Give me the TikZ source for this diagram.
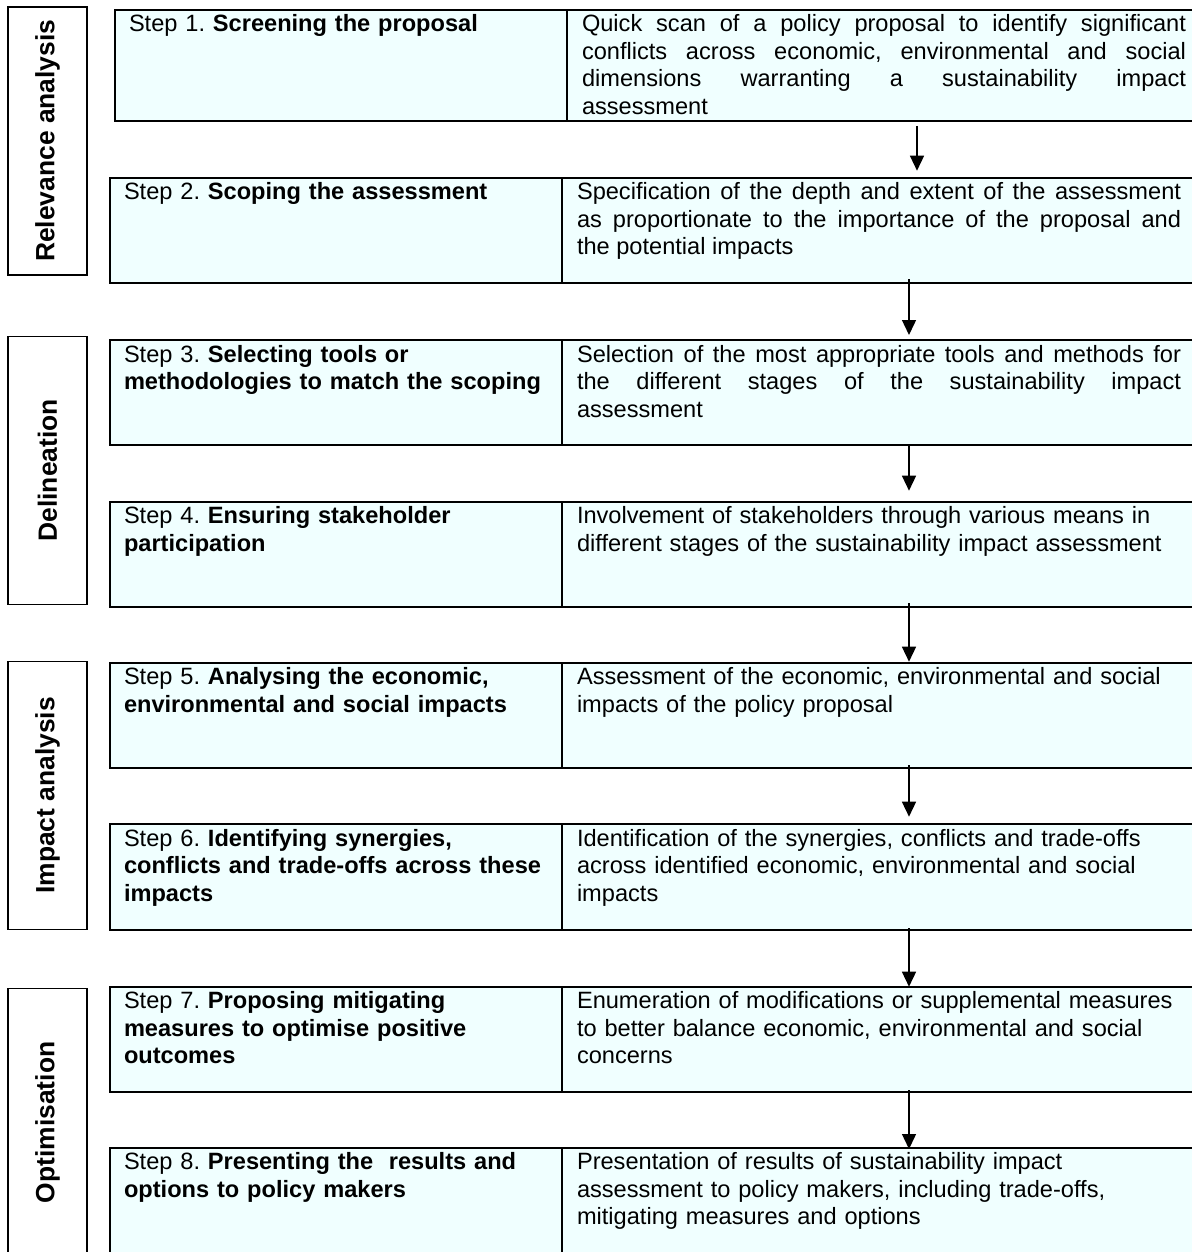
\documentclass[tikz,border=0pt]{standalone}
\usepackage{fontspec}
\setmainfont{Liberation Sans}
\usetikzlibrary{positioning,arrows.meta}
\definecolor{cellfill}{RGB}{240,255,255}
\frenchspacing

\begin{document}
\begin{tikzpicture}[x=1pt, y=1pt,
	cell/.style={draw, line width=1pt, fill=cellfill, anchor=north west, outer sep=0pt, inner ysep=0pt, text height=11pt, text depth=41.5pt, font=\fontsize{11.8}{13.75}\selectfont},
	stepcell/.style={cell, text width=212pt, inner xsep=7pt, align=left},
	desccell/.style={cell, text width=302pt, inner xsep=7.5pt, align=left},
	stage/.style={draw, line width=0.8pt, fill=white, rotate=90, minimum width=134pt, minimum height=39.5pt, inner sep=0pt, font=\fontsize{13.2}{15}\selectfont\bfseries},
	flow/.style={line width=0.7pt, -{Triangle[length=7.5pt, width=7pt]}}]
	\useasboundingbox (0, 0) rectangle (596, -626);

	\node[stage] (rel) at (23.75, -70.4) {Relevance analysis};
	\node[stage] (del) at (23.75, -235.15) {Delineation};
	\node[stage] (imp) at (23.75, -397.65) {Impact analysis};
	\node[stage] (opt) at (23.75, -561.2) {Optimisation};

	\node[stepcell, text depth=44.35pt] (s1l) at (57.5, -5) {Step 1. \textbf{Screening the proposal}};
	\node[desccell, text depth=44.35pt, align=justify, right=0pt of s1l] (s1r) {Quick scan of a policy proposal to identify significant\linebreak conflicts across economic, environmental and social\linebreak dimensions warranting a sustainability impact\linebreak assessment};

	\node[stepcell] (s2l) at (55, -88.85) {Step 2. \textbf{Scoping the assessment}};
	\node[desccell, align=justify, right=0pt of s2l] (s2r) {Specification of the depth and extent of the assessment\linebreak as proportionate to the importance of the proposal and\linebreak the potential impacts};

	\node[stepcell] (s3l) at (55, -170) {Step 3. \textbf{Selecting tools or\\ methodologies to match the scoping}};
	\node[desccell, align=justify, right=0pt of s3l] (s3r) {Selection of the most appropriate tools and methods for\linebreak the different stages of the sustainability impact\linebreak assessment};

	\node[stepcell] (s4l) at (55, -250.85) {Step 4. \textbf{Ensuring stakeholder\\ participation}};
	\node[desccell, right=0pt of s4l] (s4r) {Involvement of stakeholders through various means in\\ different stages of the sustainability impact assessment};

	\node[stepcell] (s5l) at (55, -331.35) {Step 5. \textbf{Analysing the economic,\\ environmental and social impacts}};
	\node[desccell, right=0pt of s5l] (s5r) {Assessment of the economic, environmental and social\\ impacts of the policy proposal};

	\node[stepcell, text depth=41.85pt] (s6l) at (55, -412.15) {Step 6. \textbf{Identifying synergies,\\ conflicts and trade-offs across these\\ impacts}};
	\node[desccell, text depth=41.85pt, right=0pt of s6l] (s6r) {Identification of the synergies, conflicts and trade-offs\\ across identified economic, environmental and social\\ impacts};

	\node[stepcell] (s7l) at (55, -493.35) {Step 7. \textbf{Proposing mitigating\\ measures to optimise positive\\ outcomes}};
	\node[desccell, right=0pt of s7l] (s7r) {Enumeration of modifications or supplemental measures\\ to better balance economic, environmental and social\\ concerns};

	\node[stepcell, text depth=50pt] (s8l) at (55, -573.85) {Step 8. \textbf{Presenting the\ \ results and\\ options to policy makers}};
	\node[desccell, text depth=50pt, right=0pt of s8l] (s8r) {Presentation of results of sustainability impact\\ assessment to policy makers, including trade-offs,\\ mitigating measures and options};

	\draw[flow, shorten <=2.65pt, shorten >=3.5pt] ([xshift=16.5pt]s1r.south) -- ([xshift=19pt]s2r.north);
	\draw[flow, shorten <=-1.85pt, shorten >=2.5pt] ([xshift=15pt]s2r.south) -- ([xshift=15pt]s3r.north);
	\draw[flow, shorten >=5.5pt] ([xshift=15pt]s3r.south) -- ([xshift=15pt]s4r.north);
	\draw[flow, shorten <=-1.85pt, shorten >=0.5pt] ([xshift=15pt]s4r.south) -- ([xshift=15pt]s5r.north);
	\draw[flow, shorten <=-1.35pt, shorten >=3.8pt] ([xshift=15pt]s5r.south) -- ([xshift=15pt]s6r.north);
	\draw[flow, shorten <=-1pt] ([xshift=15pt]s6r.south) -- ([xshift=15pt]s7r.north);
	\draw[flow, shorten <=-0.85pt, shorten >=-0.65pt] ([xshift=15pt]s7r.south) -- ([xshift=15pt]s8r.north);
\end{tikzpicture}
\end{document}
